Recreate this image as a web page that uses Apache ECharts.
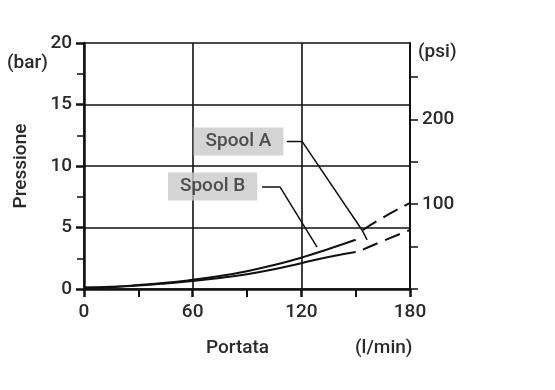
<!DOCTYPE html>
<html>
<head>
<meta charset="utf-8">
<script src="https://cdn.jsdelivr.net/npm/echarts@6/dist/echarts.min.js"></script>
<style>
html,body{margin:0;padding:0;background:#fff;}
#chart{width:555px;height:390px;}
</style>
</head>
<body>
<div id="chart"></div>
<script>
// Flow (l/min) vs pressure (bar)
var spoolASolid = [[0,0.12],[15,0.18],[30,0.32],[45,0.5],[60,0.75],[75,1.05],[90,1.45],[105,1.95],[120,2.55],[135,3.25],[150,4.0]];
var spoolADashed = [[154,4.8],[165,5.8],[180,7.0]];
var spoolBSolid = [[0,0.1],[15,0.15],[30,0.28],[45,0.45],[60,0.65],[75,0.9],[90,1.2],[105,1.6],[120,2.1],[135,2.6],[150,3.0]];
var spoolBDashed = [[154,3.2],[165,3.9],[180,4.8]];
// annotation leader lines (data units)
var leaderA = [[112,12.0],[120.4,12.0],[153.5,4.8],[156.3,4.0]];
var leaderB = [[98.3,8.3],[108.2,8.3],[128.7,3.4]];
var labelA = [[85.3,12.0]];
var labelB = [[71.0,8.33]];
var xTicks = [0,60,120,180];
var yTicks = [0,5,10,15,20];
var psiTicks = [0,50,100,150,200,250];
var psiLabels = [100,200];
var BAR_PER_PSI = 1/14.5038;

var FONT = 'Roboto';
var FW = 500;
var TXT = '#2a2a2a';
var chart = echarts.init(document.getElementById('chart'), null, {renderer:'canvas'});
var lineStyleSolid = {color:'#111', width:2};
var txt = {fontFamily:FONT, fontSize:19, fontWeight:FW, color:TXT};
function font(){ return FW + ' 19px ' + FONT; }
var option = {
  animation:false,
  backgroundColor:'#fff',
  textStyle:{fontFamily:FONT},
  grid:{left:84, right:145, top:43, bottom:101},
  xAxis:{
    type:'value', min:xTicks[0], max:xTicks[xTicks.length-1], interval:60,
    axisLine:{show:true, onZero:false, lineStyle:{color:'#111', width:2.5}},
    axisTick:{show:true, length:8, lineStyle:{color:'#111', width:2.5}},
    minorTick:{show:true, splitNumber:2, length:8, lineStyle:{color:'#111', width:2}},
    axisLabel:Object.assign({margin:14}, txt),
    splitLine:{show:true, lineStyle:{color:'#111', width:1.6}}
  },
  yAxis:[{
    type:'value', min:yTicks[0], max:yTicks[yTicks.length-1], interval:5,
    name:'Pressione', nameLocation:'middle', nameGap:53, nameRotate:90,
    nameTextStyle:txt,
    axisLine:{show:true, onZero:false, lineStyle:{color:'#111', width:2.5}},
    axisTick:{show:true, length:8, lineStyle:{color:'#111', width:2.5}},
    minorTick:{show:true, splitNumber:2, length:7, lineStyle:{color:'#111', width:1.5}},
    axisLabel:Object.assign({margin:12}, txt),
    splitLine:{show:true, lineStyle:{color:'#111', width:1.6}}
  },{
    type:'value', position:'right', min:0, max:20,
    axisLine:{show:true, onZero:false, lineStyle:{color:'#111', width:2}},
    axisTick:{show:true, length:8, lineStyle:{color:'#111', width:1.5},
      customValues: psiTicks.map(function(p){return p*BAR_PER_PSI;})},
    axisLabel:Object.assign({margin:12,
      customValues: psiLabels.map(function(p){return p*BAR_PER_PSI;}),
      formatter:function(v){return String(Math.round(v/BAR_PER_PSI));}}, txt),
    splitLine:{show:false}
  }],
  graphic:[
    {type:'text', left:7, top:54, style:{text:'(bar)', font:font(), fill:TXT}},
    {type:'text', left:418, top:43, style:{text:'(psi)', font:font(), fill:TXT}},
    {type:'text', left:206, top:339, style:{text:'Portata', font:font(), fill:TXT}},
    {type:'text', left:355, top:339, style:{text:'(l/min)', font:font(), fill:TXT}}
  ],
  series:[
    {type:'line', data:spoolASolid, smooth:true, symbol:'none', lineStyle:lineStyleSolid, z:5},
    {type:'line', data:spoolADashed, smooth:true, symbol:'none', lineStyle:{color:'#111', width:2, type:[16,8]}, z:5},
    {type:'line', data:spoolBSolid, smooth:true, symbol:'none', lineStyle:lineStyleSolid, z:5},
    {type:'line', data:spoolBDashed, smooth:true, symbol:'none', lineStyle:{color:'#111', width:2, type:[16,8]}, z:5},
    {type:'line', data:leaderA, symbol:'none', lineStyle:{color:'#111', width:1.5}, z:5},
    {type:'line', data:leaderB, symbol:'none', lineStyle:{color:'#111', width:1.5}, z:5},
    {type:'scatter', data:labelA, symbolSize:1, itemStyle:{color:'rgba(0,0,0,0)'}, z:6,
      label:Object.assign({show:true, position:'inside', formatter:'Spool A',
        backgroundColor:'#c9c9c9', padding:[5,12,4,12]}, txt)},
    {type:'scatter', data:labelB, symbolSize:1, itemStyle:{color:'rgba(0,0,0,0)'}, z:6,
      label:Object.assign({show:true, position:'inside', formatter:'Spool B',
        backgroundColor:'#c9c9c9', padding:[5,12,4,12]}, txt)}
  ]
};
chart.setOption(option);
</script>
</body>
</html>
